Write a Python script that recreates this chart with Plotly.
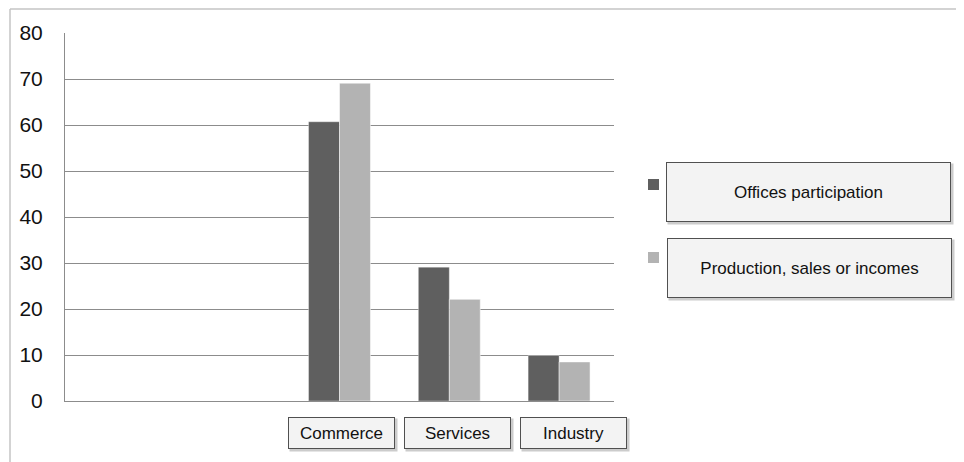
import plotly.graph_objects as go

categories = ["Commerce", "Services", "Industry"]
offices = [60.7, 29.1, 9.9]
production = [69.1, 22.1, 8.5]
series_names = ["Offices participation", "Production, sales or incomes"]
y_ticks = [0, 10, 20, 30, 40, 50, 60, 70, 80]

FONT = "Liberation Sans, Arial, sans-serif"
DARK = "#5f5f5f"
LIGHT = "#b3b3b3"
GRID = "#8c8c8c"
colors = [DARK, LIGHT]

fig = go.Figure()
fig.add_trace(go.Bar(x=categories, y=offices, name=series_names[0],
                     marker=dict(color=DARK, line=dict(color="rgba(255,255,255,0.35)", width=1))))
fig.add_trace(go.Bar(x=categories, y=production, name=series_names[1],
                     marker=dict(color=LIGHT, line=dict(color="rgba(255,255,255,0.5)", width=1))))

OFF = 8  # page body margin
W, H = 964 - OFF, 462 - OFF
ml, mt = 65 - OFF, 33 - OFF
mr, mb = W - (614 - OFF), H - (401 - OFF)
pw, ph = W - ml - mr, H - mt - mb

def px_x(x):
    return (x - OFF - ml) / pw

def px_y(y):
    return 1 - (y - OFF - mt) / ph

shapes = [
    dict(type="line", xref="paper", yref="paper", x0=px_x(10), x1=px_x(970), y0=px_y(9), y1=px_y(9),
         line=dict(color="#c4c4c4", width=1.5)),
    dict(type="line", xref="paper", yref="paper", x0=px_x(10), x1=px_x(10), y0=px_y(9), y1=px_y(470),
         line=dict(color="#c4c4c4", width=1.5)),
]

annotations = []
legend_centres = [(808.5, 192), (809, 268)]
legend_squares = [(179, 190), (252, 263)]
for name, col, (cx, cy), (sy0, sy1) in zip(series_names, colors, legend_centres, legend_squares):
    shapes.append(dict(type="rect", xref="paper", yref="paper", x0=px_x(648), x1=px_x(659),
                       y0=px_y(sy1), y1=px_y(sy0), fillcolor=col, line=dict(width=0)))
    annotations.append(dict(xref="paper", yref="paper", x=px_x(cx), y=px_y(cy), text="",
                            xanchor="center", yanchor="middle",
                            showarrow=False, width=281, height=56, bgcolor="#cccccc",
                            borderpad=2, xshift=2, yshift=-2))
    annotations.append(dict(xref="paper", yref="paper", x=px_x(cx), y=px_y(cy), text=name,
                            xanchor="center", yanchor="middle",
                            showarrow=False, width=281, height=56, bgcolor="#f3f3f3",
                            bordercolor="#505050", borderwidth=1, borderpad=1,
                            font=dict(family=FONT, size=17, color="#111")))
for cat, shift in zip(categories, [1.5, 8.5, 14.5]):
    annotations.append(dict(xref="x", yref="paper", x=cat, y=px_y(433), text="",
                            xanchor="center", yanchor="middle",
                            showarrow=False, width=103, height=28, bgcolor="#cccccc",
                            borderpad=2, xshift=shift + 2, yshift=-2))
    annotations.append(dict(xref="x", yref="paper", x=cat, y=px_y(433), text=cat,
                            xanchor="center", yanchor="middle",
                            showarrow=False, width=103, height=28, bgcolor="#f3f3f3",
                            bordercolor="#505050", borderwidth=1, borderpad=1, xshift=shift,
                            font=dict(family=FONT, size=17, color="#111")))

fig.update_layout(
    width=W, height=H,
    margin=dict(l=ml, r=mr, t=mt, b=mb, pad=0),
    paper_bgcolor="white", plot_bgcolor="white",
    font=dict(family=FONT, color="#111"),
    barmode="group", bargap=0.436, bargroupgap=0,
    showlegend=False,
    xaxis=dict(type="category", range=[-2.5, 2.5], showticklabels=False, showgrid=False,
               ticks="", showline=True, linecolor=GRID, linewidth=1, fixedrange=True),
    yaxis=dict(range=[0, 80], tickvals=y_ticks, showgrid=True, gridcolor=GRID, gridwidth=1,
               showline=True, linecolor=GRID, linewidth=1, ticks="", zeroline=False,
               tickfont=dict(family=FONT, size=21, color="#111"), ticklabelstandoff=17),
    shapes=shapes, annotations=annotations,
)

fig.write_html("out.html")
